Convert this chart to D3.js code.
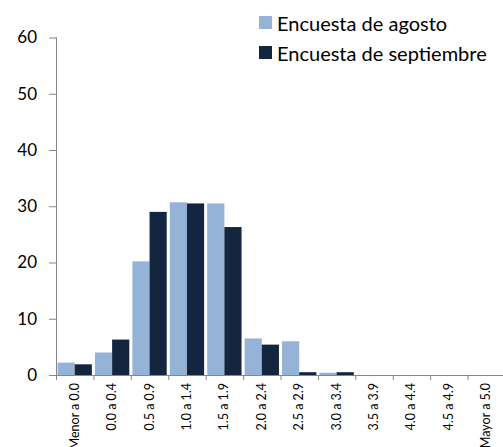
<!DOCTYPE html>
<html><head><meta charset="utf-8">
<script src="https://cdn.jsdelivr.net/npm/d3@7"></script>
<style>body{margin:0;background:#fff}svg{display:block}</style>
</head><body>
<script>
const categories = ["Menor a 0.0","0.0 a 0.4","0.5 a 0.9","1.0 a 1.4","1.5 a 1.9","2.0 a 2.4","2.5 a 2.9","3.0 a 3.4","3.5 a 3.9","4.0 a 4.4","4.5 a 4.9","Mayor a 5.0"];
const agosto = [2.2, 4.0, 20.2, 30.7, 30.5, 6.5, 6.0, 0.4, 0, 0, 0, 0];
const septiembre = [1.9, 6.3, 29.0, 30.5, 26.3, 5.4, 0.5, 0.5, 0, 0, 0, 0];
const seriesNames = ["Encuesta de agosto","Encuesta de septiembre"];
const colors = ["#95b3d7","#13253f"];
const yTicks = [0,10,20,30,40,50,60];

const W = 503, H = 447;
const svg = d3.select("body").append("svg").attr("width", W).attr("height", H);
const font = "Lato, 'Open Sans', sans-serif";

const x = d3.scaleBand().domain(categories).range([56, 505]).paddingInner(0).paddingOuter(0);
const xs = d3.scaleBand().domain([0,1]).range([0, x.bandwidth()]).paddingInner(0).paddingOuter(0.09);
const y = d3.scaleLinear().domain([0,60]).range([375, 37.5]);

const series = [agosto, septiembre];
series.forEach((vals, si) => {
  svg.append("g").selectAll("rect").data(vals).join("rect")
    .attr("x", (d,i) => x(categories[i]) + xs(si))
    .attr("width", xs.bandwidth())
    .attr("y", d => y(d))
    .attr("height", d => y(0) - y(d))
    .attr("fill", colors[si]);
});

const axisColor = "#868686";
const yAxis = svg.append("g").attr("transform", "translate(56,0)")
  .call(d3.axisLeft(y).tickValues(yTicks).tickSize(7).tickPadding(12).tickFormat(d3.format("d")));
yAxis.select(".domain").attr("stroke", axisColor).attr("d", `M-0.5,${y(60)}H0.5V${y(0)}`);
yAxis.selectAll(".tick line").attr("stroke", axisColor);
yAxis.selectAll("text").attr("font-family", font).attr("font-size", 17).attr("fill", "#000");

const xTickPos = categories.map(c => x(c));
svg.append("line").attr("x1", 56).attr("x2", 505).attr("y1", y(0)+0.5).attr("y2", y(0)+0.5).attr("stroke", axisColor);
svg.append("g").selectAll("line").data(xTickPos).join("line")
  .attr("x1", d => d + 0.5).attr("x2", d => d + 0.5)
  .attr("y1", y(0)).attr("y2", y(0) + 5).attr("stroke", axisColor);

svg.append("g").selectAll("text").data(categories).join("text")
  .attr("transform", d => `translate(${x(d) + x.bandwidth()/2 + 4},383) rotate(-90)`)
  .attr("text-anchor", "end")
  .attr("font-family", font).attr("font-size", 12.5).attr("fill", "#000")
  .text(d => d);

const leg = svg.append("g");
seriesNames.forEach((n, i) => {
  const yy = 16 + i * 30;
  leg.append("rect").attr("x", 259).attr("y", yy).attr("width", 13).attr("height", 13).attr("fill", colors[i]);
  leg.append("text").attr("x", 277).attr("y", yy + 14.5).attr("font-family", font).attr("font-size", 20).attr("fill", "#000").text(n);
});
</script>
</body></html>
